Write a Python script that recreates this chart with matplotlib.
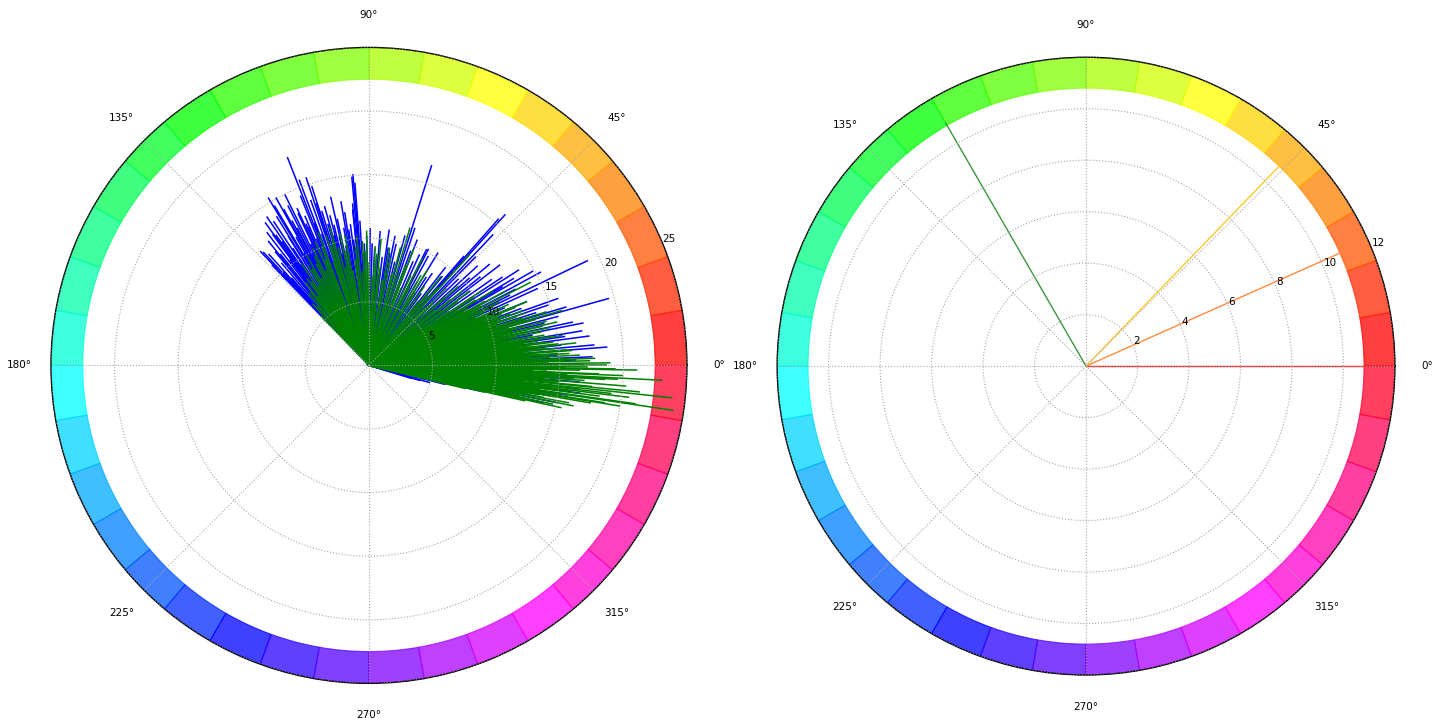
import numpy as np
import matplotlib
matplotlib.use('Agg')
import matplotlib.pyplot as plt
from matplotlib.colors import hsv_to_rgb

plt.rcParams['font.family'] = ['Liberation Sans Narrow', 'DejaVu Sans']
plt.rcParams['font.size'] = 7.5

# left panel: individual vectors (direction in degrees, magnitude)
blue_deg = [111.4, 121.0, 119.0, 107.7, 109.4, 116.9, 126.3, 133.6, 107.0, 99.7,
            102.2, 95.2, 94.4, 113.8, 123.5, 125.0, 128.5, 130.5, 122.0, 118.0,
            115.0, 112.5, 120.0, 124.0, 131.5, 127.0, 117.0, 110.0, 105.0, 103.5,
            101.0, 97.5, 96.0, 93.0, 91.0, 88.5, 86.0, 84.0, 80.7, 78.6,
            76.0, 72.6, 70.0, 67.0, 63.6, 62.9, 60.0, 57.0, 54.0, 50.5,
            47.9, 46.5, 44.0, 41.0, 38.5, 36.3, 33.5, 31.0, 29.9, 27.5,
            25.6, 23.0, 20.5, 18.6, 15.6, 13.5, 12.0, 10.5, 9.2, 7.6,
            6.0, 4.4, 3.0, 1.5, -1.0, -3.5, -5.5, -7.5, -9.5, -11.2,
            -13.0, -15.8, -17.0, 129.5, 132.5, 126.0, 114.0, 108.5, 104.0, 98.5]
blue_len = [17.6, 15.4, 15.1, 14.8, 13.8, 14.1, 12.8, 12.4, 12.7, 13.1,
            11.8, 14.9, 14.4, 11.9, 13.6, 11.9, 11.2, 10.6, 12.0, 12.9,
            13.2, 10.8, 10.2, 9.6, 9.2, 8.6, 9.8, 9.2, 10.6, 9.0,
            9.6, 11.2, 12.3, 8.8, 10.2, 9.6, 8.6, 7.2, 9.4, 10.4,
            8.4, 16.5, 9.6, 8.9, 10.2, 10.3, 7.6, 8.3, 7.0, 9.1,
            16.0, 14.2, 9.8, 10.5, 11.2, 9.9, 12.6, 13.3, 14.9, 13.0,
            19.1, 11.6, 12.8, 14.9, 19.6, 14.2, 16.4, 13.1, 17.0, 17.5,
            15.2, 18.8, 14.8, 16.3, 13.5, 15.9, 12.4, 16.8, 14.4, 15.1,
            9.2, 5.0, 3.5, 11.6, 10.0, 13.9, 12.2, 15.6, 11.4, 10.8]
blue_deg_more = [132.0, 133.0, 134.0, 129.0, 127.5, 126.8, 125.5, 124.5, 123.0, 121.8,
                 120.6, 119.6, 118.6, 117.6, 116.2, 115.6, 114.6, 113.2, 112.0, 111.0,
                 110.6, 109.8, 108.0, 106.2, 105.6, 104.6, 103.0, 102.8, 100.4, 99.0,
                 97.0, 95.8, 94.8, 93.6, 92.2, 89.5, 87.2, 85.2, 83.0, 81.5,
                 79.5, 77.4, 74.5, 71.5, 69.0, 65.5, 61.5, 58.5, 55.5, 52.0,
                 49.0, 48.5, 45.5, 42.5, 40.0, 37.5, 35.0, 32.5, 30.5, 28.5,
                 26.5, 24.5, 22.0, 19.5, 17.5, 16.5, 14.5, 11.2, 8.4, 5.2,
                 2.2, 0.5, -2.2, -4.5, -6.5, -8.5, -10.5, -12.0, -14.0, -16.5]
blue_len_more = [11.8, 12.2, 11.0, 12.6, 13.2, 10.4, 12.6, 14.2, 11.0, 13.8,
                 14.6, 11.6, 14.0, 12.2, 15.0, 10.6, 13.6, 12.8, 14.4, 12.0,
                 15.6, 11.0, 13.4, 11.6, 13.0, 12.2, 10.4, 13.6, 11.0, 12.2,
                 10.0, 12.8, 15.1, 11.4, 9.6, 10.8, 9.2, 10.6, 8.6, 10.8,
                 9.0, 9.8, 10.6, 11.4, 10.6, 9.6, 9.8, 10.4, 8.8, 9.8,
                 11.4, 15.4, 12.0, 11.6, 12.4, 13.0, 11.8, 14.0, 12.2, 15.4,
                 12.4, 14.6, 13.4, 15.8, 13.8, 16.2, 15.4, 17.2, 15.6, 17.8,
                 17.6, 15.0, 14.6, 16.6, 13.8, 15.8, 13.2, 14.0, 6.2, 4.2]

green_deg = [-13.5, -13.0, -12.6, -12.4, -12.0, -11.6, -11.2, -10.8, -10.4, -10.0,
             -9.6, -9.2, -8.8, -8.4, -8.0, -7.6, -7.2, -6.9, -6.6, -6.1,
             -5.8, -5.4, -5.0, -4.6, -4.2, -3.8, -3.4, -2.9, -2.5, -2.1,
             -1.7, -1.3, -1.0, -0.6, -0.2, 0.0, 0.4, 0.8, 1.2, 1.6,
             2.0, 2.4, 2.8, 3.2, 3.6, 4.0, 4.5, 5.0, 5.5, 6.0,
             6.5, 7.0, 7.5, 8.0, 8.5, 9.0, 9.5, 10.0, 10.6, 11.2,
             11.8, 12.4, 13.0, 13.6, 14.2, 14.8, 15.4, 15.9, 16.5, 17.1,
             17.8, 18.5, 19.2, 20.0, 20.8, 21.6, 22.4, 23.2, 24.0, 24.8,
             25.6, 26.4, 27.2, 28.0, 29.0, 30.0, 31.0, 32.0, 33.0, 34.0,
             35.5, 37.0, 38.5, 40.0, 42.0, 44.0, 46.0, 47.7, 50.0, 52.5,
             55.0, 57.5, 60.0, 62.5, 65.0, 67.5, 70.0, 73.4, 76.0, 78.5,
             81.0, 83.5, 86.0, 88.0, 90.0, 92.0, 94.0, 95.4, 97.5, 99.5,
             101.5, 103.5, 105.8, 107.5, 109.0, 110.9, 112.5, 114.5, 116.5, 118.5,
             120.5, 122.5, 124.5, 126.5, 128.5, 131.0, 134.0]
green_len = [7.8, 9.4, 11.2, 15.5, 13.1, 12.0, 16.4, 10.6, 14.0, 12.7,
             17.7, 20.0, 15.2, 24.2, 13.6, 18.3, 16.0, 14.4, 19.2, 24.0,
             12.2, 17.6, 15.0, 20.3, 13.8, 16.2, 18.6, 23.1, 14.6, 18.1,
             12.9, 16.6, 21.1, 15.4, 13.2, 18.7, 16.9, 14.1, 17.4, 12.6,
             15.8, 13.6, 16.6, 11.8, 14.9, 13.1, 15.6, 12.4, 14.0, 11.4,
             15.0, 12.8, 13.9, 10.8, 12.3, 14.4, 11.2, 13.0, 10.4, 12.0,
             14.6, 10.9, 15.2, 11.6, 12.8, 10.0, 13.6, 15.8, 11.0, 12.6,
             9.8, 13.0, 10.6, 11.8, 9.6, 12.4, 10.4, 11.2, 9.2, 10.0,
             8.6, 9.6, 14.3, 8.8, 10.4, 9.0, 11.4, 8.2, 9.8, 7.6,
             8.6, 7.2, 9.4, 6.8, 8.0, 7.0, 6.4, 11.8, 7.2, 6.4,
             7.6, 6.8, 8.2, 7.0, 7.8, 6.6, 8.4, 11.3, 7.4, 8.6,
             6.8, 7.8, 8.8, 7.0, 8.1, 9.0, 7.4, 10.2, 8.4, 7.6,
             9.2, 8.0, 11.3, 9.8, 8.6, 11.2, 9.0, 8.2, 9.6, 7.8,
             8.8, 7.4, 8.0, 6.8, 7.4, 6.2, 5.4]
green_deg_more = [-12.8, -11.9, -11.4, -10.6, -9.8, -9.0, -8.2, -7.4, -7.0, -6.3,
                  -5.6, -4.8, -4.0, -3.2, -2.7, -2.3, -1.5, -0.8, -0.4, 0.2,
                  0.6, 1.0, 1.4, 1.8, 2.2, 2.6, 3.0, 3.4, 3.8, 4.2,
                  4.8, 5.2, 5.8, 6.2, 6.8, 7.2, 7.8, 8.2, 8.8, 9.2,
                  9.8, 10.3, 11.0, 11.5, 12.1, 12.7, 13.3, 14.0, 14.5, 15.1,
                  16.2, 16.8, 17.5, 18.2, 18.8, 19.6, 20.4, 21.2, 22.0, 22.8,
                  23.6, 25.2, 26.0, 27.8, 28.6, 29.5, 31.5, 33.5, 36.5, 39.0,
                  41.5, 45.0, 48.5, 51.0, 58.5, 63.5, 69.0, 72.0, 75.0, 80.0,
                  84.5, 87.0, 91.0, 93.0, 96.5, 100.5, 102.5, 104.5, 106.5, 108.2,
                  111.8, 113.5, 115.5, 117.5, 119.5, 121.5, 123.5, 125.5, 127.5, 130.0,
                  132.5]
green_len_more = [12.6, 14.8, 10.2, 16.0, 13.6, 18.8, 21.2, 14.8, 20.6, 16.6,
                  21.4, 14.2, 17.0, 19.6, 15.6, 20.0, 14.0, 19.4, 17.2, 14.8,
                  19.0, 12.8, 15.4, 17.8, 13.2, 14.2, 12.4, 15.8, 10.8, 16.0,
                  12.2, 14.8, 13.4, 16.4, 11.6, 14.6, 12.2, 13.4, 15.4, 12.4,
                  14.0, 11.6, 13.8, 10.6, 12.8, 14.0, 10.2, 14.4, 12.0, 11.4,
                  12.8, 14.6, 10.6, 12.2, 11.0, 12.8, 10.8, 11.2, 13.4, 9.8,
                  12.0, 10.8, 11.4, 10.0, 12.2, 8.6, 9.8, 10.6, 9.8, 8.2,
                  9.4, 8.6, 8.2, 9.0, 8.8, 9.4, 9.8, 7.6, 9.6, 9.4,
                  10.0, 9.4, 10.6, 9.8, 9.4, 10.4, 10.6, 9.6, 10.2, 10.8,
                  10.0, 10.6, 10.2, 9.0, 10.0, 9.2, 9.6, 8.4, 8.2, 7.4,
                  6.6]

# right panel: mean directions
mean_deg = [0.0, 24.0, 46.0, 120.0]
mean_len = [10.8, 10.9, 10.9, 10.9]
mean_colors = ['#ff1a1a', '#ff8a3d', '#ffc928', '#3c963c']

left_rmax = 25
left_rticks = [5, 10, 15, 20, 25]
right_rmax = 12
right_rticks = [2, 4, 6, 8, 10, 12]


def hue_color(deg):
    return hsv_to_rgb((deg % 360 / 360.0, 1.0, 1.0))


def setup_polar(ax, rmax, rticks):
    # hue ring around the outside, one sector per 10 degrees
    starts = np.arange(0, 360, 10)
    colors = [hue_color(d) for d in starts]
    ax.bar(np.radians(starts), 0.1 * rmax, width=np.radians(10), bottom=0.9 * rmax,
           align='edge', color=colors, edgecolor=colors, linewidth=0.8, alpha=0.75)
    ax.set_ylim(0, rmax)
    ax.set_yticks(rticks)
    ax.set_rlabel_position(22.5)
    ax.set_thetagrids(np.arange(0, 360, 45))
    ax.set_axisbelow(False)
    ax.grid(True, color='0.65', linestyle=':', linewidth=0.8)
    ax.tick_params(axis='x', pad=12.5)
    ax.spines['polar'].set_linewidth(1.0)


fig = plt.figure(figsize=(14.32, 7.2), dpi=100)
ax1 = fig.add_axes([0.0356, 0.05, 0.4441, 0.885], projection='polar')
ax2 = fig.add_axes([0.5426, 0.0625, 0.4316, 0.858], projection='polar')

setup_polar(ax1, left_rmax, left_rticks)
ax1.vlines(np.radians(blue_deg + blue_deg_more), 0, blue_len + blue_len_more,
           color='blue', linewidth=1.1)
ax1.vlines(np.radians(green_deg + green_deg_more), 0, green_len + green_len_more,
           color='green', linewidth=1.1)

setup_polar(ax2, right_rmax, right_rticks)
for d, r, c in zip(mean_deg, mean_len, mean_colors):
    ax2.plot([np.radians(d), np.radians(d)], [0, r], color=c, linewidth=1.0)

fig.savefig('out.png', dpi=100)
